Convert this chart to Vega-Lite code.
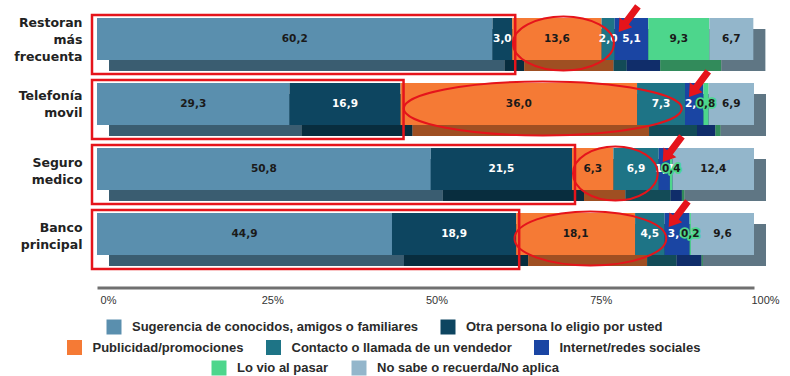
{
  "$schema": "https://vega.github.io/schema/vega-lite/v6.json",
  "width": 657,
  "height": 260,
  "autosize": "none",
  "padding": {"left": 97, "top": 12.5, "right": 36, "bottom": 103.5},
  "background": "white",
  "config": {
    "view": {"stroke": null},
    "locale": {"number": {"decimal": ",", "thousands": ".", "grouping": [3], "currency": ["", " €"]}},
    "legend": {
      "title": null,
      "orient": "none",
      "direction": "horizontal",
      "padding": 0,
      "symbolType": "square",
      "symbolSize": 225,
      "symbolStrokeWidth": 0,
      "labelFont": "Liberation Sans",
      "labelFontWeight": "bold",
      "labelFontSize": 13,
      "labelColor": "#2a2a2a",
      "labelLimit": 400,
      "labelOffset": 10.5,
      "columnPadding": 22
    }
  },
  "datasets": {
    "d": [
      {"row": "Restoran más frecuenta", "cat": "Sugerencia de conocidos, amigos o familiares", "value": 60.2},
      {"row": "Restoran más frecuenta", "cat": "Otra persona lo eligio por usted", "value": 3.0},
      {"row": "Restoran más frecuenta", "cat": "Publicidad/promociones", "value": 13.6},
      {"row": "Restoran más frecuenta", "cat": "Contacto o llamada de un vendedor", "value": 2.0},
      {"row": "Restoran más frecuenta", "cat": "Internet/redes sociales", "value": 5.1},
      {"row": "Restoran más frecuenta", "cat": "Lo vio al pasar", "value": 9.3},
      {"row": "Restoran más frecuenta", "cat": "No sabe o recuerda/No aplica", "value": 6.7},
      {"row": "Telefonía movil", "cat": "Sugerencia de conocidos, amigos o familiares", "value": 29.3},
      {"row": "Telefonía movil", "cat": "Otra persona lo eligio por usted", "value": 16.9},
      {"row": "Telefonía movil", "cat": "Publicidad/promociones", "value": 36.0},
      {"row": "Telefonía movil", "cat": "Contacto o llamada de un vendedor", "value": 7.3},
      {"row": "Telefonía movil", "cat": "Internet/redes sociales", "value": 2.8},
      {"row": "Telefonía movil", "cat": "Lo vio al pasar", "value": 0.8},
      {"row": "Telefonía movil", "cat": "No sabe o recuerda/No aplica", "value": 6.9},
      {"row": "Seguro medico", "cat": "Sugerencia de conocidos, amigos o familiares", "value": 50.8},
      {"row": "Seguro medico", "cat": "Otra persona lo eligio por usted", "value": 21.5},
      {"row": "Seguro medico", "cat": "Publicidad/promociones", "value": 6.3},
      {"row": "Seguro medico", "cat": "Contacto o llamada de un vendedor", "value": 6.9},
      {"row": "Seguro medico", "cat": "Internet/redes sociales", "value": 1.7},
      {"row": "Seguro medico", "cat": "Lo vio al pasar", "value": 0.4},
      {"row": "Seguro medico", "cat": "No sabe o recuerda/No aplica", "value": 12.4},
      {"row": "Banco principal", "cat": "Sugerencia de conocidos, amigos o familiares", "value": 44.9},
      {"row": "Banco principal", "cat": "Otra persona lo eligio por usted", "value": 18.9},
      {"row": "Banco principal", "cat": "Publicidad/promociones", "value": 18.1},
      {"row": "Banco principal", "cat": "Contacto o llamada de un vendedor", "value": 4.5},
      {"row": "Banco principal", "cat": "Internet/redes sociales", "value": 3.8},
      {"row": "Banco principal", "cat": "Lo vio al pasar", "value": 0.2},
      {"row": "Banco principal", "cat": "No sabe o recuerda/No aplica", "value": 9.6}
    ]
  },
  "data": {"name": "d"},
  "transform": [
    {"window": [{"op": "sum", "field": "value", "as": "cum"}], "groupby": ["row"]},
    {"calculate": "datum.cum - datum.value", "as": "start"},
    {"calculate": "datum.cum - datum.value / 2", "as": "mid"}
  ],
  "encoding": {
    "y": {
      "field": "row", "type": "nominal", "sort": null,
      "scale": {"paddingInner": 0, "paddingOuter": 0},
      "axis": {
        "title": null, "ticks": false, "domain": false, "grid": false,
        "labelPadding": 15, "labelFont": "DejaVu Sans", "labelFontWeight": "bold",
        "labelFontSize": 12.5, "labelColor": "#222222", "labelLineHeight": 17,
        "labelExpr": "split(datum.label, ' ')", "labelLimit": 200,
        "labelOffset": {
          "condition": [
            {"test": "datum.value == 'Restoran más frecuenta'", "value": -22},
            {"test": "datum.value == 'Telefonía movil'", "value": -14}
          ],
          "value": -12
        }
      }
    }
  },
  "layer": [
    {
      "mark": {"type": "bar", "size": 42, "yOffset": 5, "xOffset": 12, "x2Offset": 12},
      "encoding": {
        "x": {
          "field": "start", "type": "quantitative", "scale": {"domain": [0, 100], "nice": false},
          "axis": {
            "title": null, "values": [0, 25, 50, 75, 100], "labelExpr": "datum.value + '%'",
            "offset": 15, "domainWidth": 3, "domainColor": "#707070", "ticks": false, "grid": false,
            "labelPadding": 7, "labelOffset": 11, "labelFlush": false, "labelFont": "Liberation Sans",
            "labelFontSize": 11, "labelColor": "#333333"
          }
        },
        "x2": {"field": "cum"},
        "color": {
          "field": "cat", "type": "nominal",
          "scale": {
            "domain": ["Sugerencia de conocidos, amigos o familiares", "Otra persona lo eligio por usted", "Publicidad/promociones", "Contacto o llamada de un vendedor", "Internet/redes sociales", "Lo vio al pasar", "No sabe o recuerda/No aplica"],
            "range": ["#5a8fae", "#0d4560", "#f57a35", "#1e7486", "#1a45a3", "#4dd68c", "#93b6cb"]
          },
          "legend": {"values": ["Sugerencia de conocidos, amigos o familiares", "Otra persona lo eligio por usted"], "columns": 2, "legendX": 9.5, "legendY": 307}
        }
      }
    },
    {
      "mark": {"type": "bar", "size": 42, "yOffset": 5, "xOffset": 12, "x2Offset": 12, "color": "#000000", "opacity": 0.35},
      "encoding": {
        "x": {"field": "start", "type": "quantitative"},
        "x2": {"field": "cum"}
      }
    },
    {
      "mark": {"type": "bar", "size": 42, "yOffset": -6},
      "encoding": {
        "x": {
          "field": "start", "type": "quantitative", "scale": {"domain": [0, 100], "nice": false},
          "axis": {
            "title": null, "values": [0, 25, 50, 75, 100], "labelExpr": "datum.value + '%'",
            "offset": 15, "domainWidth": 3, "domainColor": "#707070", "ticks": false, "grid": false,
            "labelPadding": 7, "labelOffset": 11, "labelFlush": false, "labelFont": "Liberation Sans",
            "labelFontSize": 11, "labelColor": "#333333"
          }
        },
        "x2": {"field": "cum"},
        "color": {
          "field": "cat", "type": "nominal",
          "scale": {
            "domain": ["Sugerencia de conocidos, amigos o familiares", "Otra persona lo eligio por usted", "Publicidad/promociones", "Contacto o llamada de un vendedor", "Internet/redes sociales", "Lo vio al pasar", "No sabe o recuerda/No aplica"],
            "range": ["#5a8fae", "#0d4560", "#f57a35", "#1e7486", "#1a45a3", "#4dd68c", "#93b6cb"]
          },
          "legend": {"values": ["Sugerencia de conocidos, amigos o familiares", "Otra persona lo eligio por usted"], "columns": 2, "legendX": 9.5, "legendY": 307}
        }
      }
    },
    {
      "transform": [{"filter": "!(datum.cat == 'Lo vio al pasar' && datum.value < 1)"}],
      "mark": {"type": "text", "yOffset": -6, "font": "DejaVu Sans", "fontWeight": "bold", "fontSize": 10.5, "baseline": "middle", "align": "center"},
      "encoding": {
        "x": {"field": "mid", "type": "quantitative"},
        "text": {"field": "value", "type": "quantitative", "format": ".1f"},
        "color": {
          "condition": {"test": "indexof(['Otra persona lo eligio por usted', 'Contacto o llamada de un vendedor', 'Internet/redes sociales'], datum.cat) >= 0", "value": "#ffffff"},
          "value": "#1a1a1a"
        }
      }
    },
    {
      "transform": [{"filter": "datum.cat == 'Lo vio al pasar' && datum.value < 1"}],
      "mark": {"type": "text", "yOffset": -6, "font": "DejaVu Sans", "fontWeight": "bold", "fontSize": 10.5, "baseline": "middle", "align": "center", "stroke": "#4dd68c", "strokeWidth": 3.5, "strokeJoin": "round", "color": "#4dd68c"},
      "encoding": {
        "x": {"field": "mid", "type": "quantitative"},
        "text": {"field": "value", "type": "quantitative", "format": ".1f"}
      }
    },
    {
      "transform": [{"filter": "datum.cat == 'Lo vio al pasar' && datum.value < 1"}],
      "mark": {"type": "text", "yOffset": -6, "font": "DejaVu Sans", "fontWeight": "bold", "fontSize": 10.5, "baseline": "middle", "align": "center", "color": "#1a1a1a"},
      "encoding": {
        "x": {"field": "mid", "type": "quantitative"},
        "text": {"field": "value", "type": "quantitative", "format": ".1f"}
      }
    },
    {
      "transform": [
        {"filter": {"field": "cat", "oneOf": ["Sugerencia de conocidos, amigos o familiares", "Otra persona lo eligio por usted"]}},
        {"aggregate": [{"op": "min", "field": "start", "as": "s"}, {"op": "max", "field": "cum", "as": "e"}], "groupby": ["row"]}
      ],
      "mark": {"type": "bar", "filled": false, "color": "#e5141b", "strokeWidth": 2.5, "size": 59, "yOffset": -0.5, "xOffset": -5, "x2Offset": 3},
      "encoding": {
        "x": {"field": "s", "type": "quantitative"},
        "x2": {"field": "e"}
      }
    },
    {
      "transform": [
        {"filter": {"field": "cat", "oneOf": ["Publicidad/promociones", "Contacto o llamada de un vendedor"]}},
        {"aggregate": [{"op": "min", "field": "start", "as": "s"}, {"op": "max", "field": "cum", "as": "e"}], "groupby": ["row"]},
        {"calculate": "(datum.s + datum.e) / 2", "as": "c"}
      ],
      "mark": {"type": "point", "filled": false, "stroke": "#e5141b", "strokeWidth": 2, "opacity": 1, "size": 2916, "yOffset": -1.5},
      "encoding": {
        "x": {"field": "c", "type": "quantitative"},
        "shape": {
          "field": "row", "type": "nominal", "legend": null,
          "scale": {
            "domain": ["Restoran más frecuenta", "Telefonía movil", "Seguro medico", "Banco principal"],
            "range": [
              "M1.87,0C1.87,0.552,1.033,1,0,1C-1.033,1,-1.87,0.552,-1.87,0C-1.87,-0.552,-1.033,-1,0,-1C1.033,-1,1.87,-0.552,1.87,0Z",
              "M5.15,0C5.15,0.552,2.844,1,0,1C-2.844,1,-5.15,0.552,-5.15,0C-5.15,-0.552,-2.844,-1,0,-1C2.844,-1,5.15,-0.552,5.15,0Z",
              "M1.57,0C1.57,0.552,0.867,1,0,1C-0.867,1,-1.57,0.552,-1.57,0C-1.57,-0.552,-0.867,-1,0,-1C0.867,-1,1.57,-0.552,1.57,0Z",
              "M2.81,0C2.81,0.552,1.552,1,0,1C-1.552,1,-2.81,0.552,-2.81,0C-2.81,-0.552,-1.552,-1,0,-1C1.552,-1,2.81,-0.552,2.81,0Z"
            ]
          }
        }
      }
    },
    {
      "transform": [{"filter": {"field": "cat", "equal": "Internet/redes sociales"}}],
      "mark": {"type": "point", "filled": true, "fill": "#e5141b", "strokeWidth": 0, "opacity": 1, "size": 400, "xOffset": 4, "yOffset": -13,
        "shape": "M0,0L1.36,-0.48L1,-0.75L2.2,-2.35L1.64,-2.77L0.44,-1.17L0.08,-1.44Z"},
      "encoding": {
        "x": {"field": "start", "type": "quantitative"}
      }
    },
    {
      "transform": [{"filter": {"field": "cat", "oneOf": ["Publicidad/promociones", "Contacto o llamada de un vendedor", "Internet/redes sociales"]}}],
      "mark": {"type": "square", "opacity": 0},
      "encoding": {
        "x": {"field": "mid", "type": "quantitative"},
        "fill": {
          "field": "cat", "type": "nominal",
          "scale": {"domain": ["Publicidad/promociones", "Contacto o llamada de un vendedor", "Internet/redes sociales"], "range": ["#f57a35", "#1e7486", "#1a45a3"]},
          "legend": {"columns": 3, "legendX": -30, "legendY": 327.5}
        }
      }
    },
    {
      "transform": [{"filter": {"field": "cat", "oneOf": ["Lo vio al pasar", "No sabe o recuerda/No aplica"]}}],
      "mark": {"type": "square", "opacity": 0, "filled": false},
      "encoding": {
        "x": {"field": "mid", "type": "quantitative"},
        "stroke": {
          "field": "cat", "type": "nominal",
          "scale": {"domain": ["Lo vio al pasar", "No sabe o recuerda/No aplica"], "range": ["#4dd68c", "#93b6cb"]},
          "legend": {"columns": 2, "legendX": 114.5, "legendY": 348, "symbolSize": 49, "symbolStrokeWidth": 8, "symbolFillColor": "transparent", "columnPadding": 11}
        }
      }
    }
  ]
}
